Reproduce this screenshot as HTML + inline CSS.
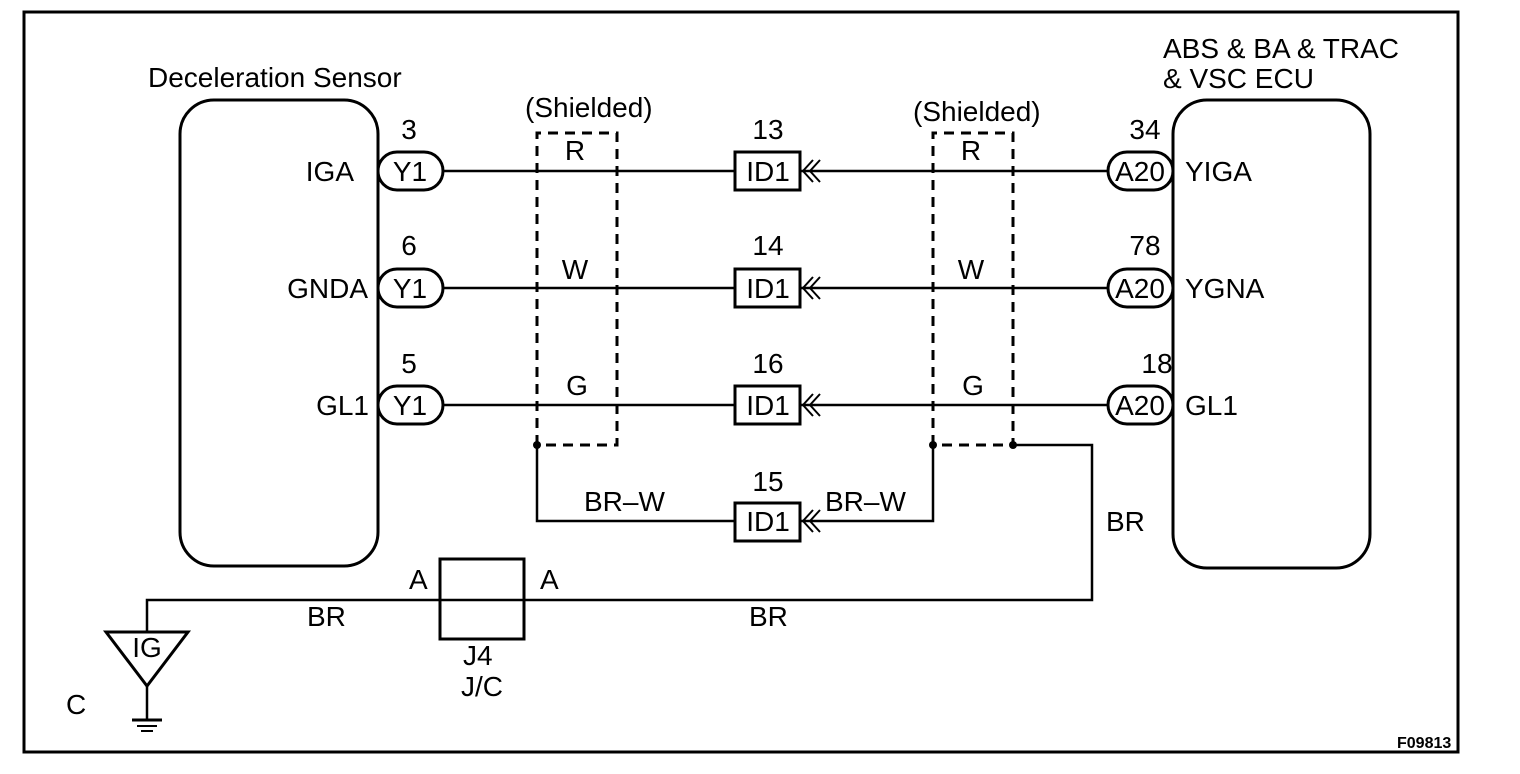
<!DOCTYPE html>
<html><head><meta charset="utf-8"><style>
html,body{margin:0;padding:0;background:#fff}
svg{display:block}
text{font-family:"Liberation Sans",Arial,sans-serif;font-size:28px;fill:#000}
</style></head><body>
<svg width="1520" height="774" viewBox="0 0 1520 774" xmlns="http://www.w3.org/2000/svg">
<g fill="none" stroke="#000" stroke-width="3">
<rect x="24" y="12" width="1434" height="740" stroke-width="3"/>
<rect x="180" y="100" width="198" height="466" rx="34"/>
<rect x="1173" y="100" width="197" height="468" rx="34"/>
</g>
<g fill="none" stroke="#000" stroke-width="2.5">
<line x1="443" y1="171" x2="735" y2="171"/>
<line x1="800" y1="171" x2="1108" y2="171"/>
<line x1="443" y1="288" x2="735" y2="288"/>
<line x1="800" y1="288" x2="1108" y2="288"/>
<line x1="443" y1="405" x2="735" y2="405"/>
<line x1="800" y1="405" x2="1108" y2="405"/>
<polyline points="537,445 537,521 735,521"/>
<polyline points="800,521 933,521 933,445"/>
<polyline points="1013,445 1092,445 1092,600 147,600 147,633"/>
<g stroke-dasharray="10,7" stroke-width="3">
<polyline points="537,445 537,133 617,133 617,445 537,445"/>
<polyline points="933,445 933,133 1013,133 1013,445 933,445"/>
</g>
<g stroke-width="3">
<rect x="378" y="152" width="65" height="38" rx="19"/>
<rect x="378" y="269" width="65" height="38" rx="19"/>
<rect x="378" y="386" width="65" height="38" rx="19"/>
<rect x="1108" y="152" width="65" height="38" rx="19"/>
<rect x="1108" y="269" width="65" height="38" rx="19"/>
<rect x="1108" y="386" width="65" height="38" rx="19"/>
<rect x="735" y="152" width="65" height="38"/>
<rect x="735" y="269" width="65" height="38"/>
<rect x="735" y="386" width="65" height="38"/>
<rect x="735" y="503" width="65" height="38"/>
</g>
<g stroke-width="2">
<path d="M813,160 L803,171 L813,182 M820,160 L810,171 L820,182"/>
<path d="M813,277 L803,288 L813,299 M820,277 L810,288 L820,299"/>
<path d="M813,394 L803,405 L813,416 M820,394 L810,405 L820,416"/>
<path d="M813,510 L803,521 L813,532 M820,510 L810,521 L820,532"/>
</g>
<rect x="440" y="559" width="84" height="80" stroke-width="3"/>
<polygon points="106,632 188,632 147,686" stroke-width="3"/>
<line x1="147" y1="686" x2="147" y2="720"/>
<line x1="132" y1="720" x2="162" y2="720" stroke-width="3"/>
<line x1="137" y1="726" x2="157" y2="726" stroke-width="2"/>
<line x1="141" y1="731" x2="153" y2="731" stroke-width="2"/>
</g>
<g fill="#000">
<circle cx="537" cy="445" r="4"/><circle cx="933" cy="445" r="4"/><circle cx="1013" cy="445" r="4"/>
</g>
<text x="148" y="87">Deceleration Sensor</text>
<text x="1163" y="58">ABS &amp; BA &amp; TRAC</text>
<text x="1163" y="88">&amp; VSC ECU</text>
<text x="525" y="117">(Shielded)</text>
<text x="913" y="121">(Shielded)</text>
<g text-anchor="middle">
<text x="409" y="139">3</text><text x="409" y="255">6</text><text x="409" y="373">5</text>
<text x="410" y="181">Y1</text><text x="410" y="298">Y1</text><text x="410" y="415">Y1</text>
<text x="1140" y="181">A20</text><text x="1140" y="298">A20</text><text x="1140" y="415">A20</text>
<text x="1145" y="139">34</text><text x="1145" y="255">78</text><text x="1157" y="373">18</text>
<text x="768" y="139">13</text><text x="768" y="255">14</text><text x="768" y="373">16</text><text x="768" y="491">15</text>
<text x="768" y="181">ID1</text><text x="768" y="298">ID1</text><text x="768" y="415">ID1</text><text x="768" y="531">ID1</text>
<text x="575" y="160">R</text><text x="575" y="279">W</text><text x="577" y="395">G</text>
<text x="971" y="160">R</text><text x="971" y="279">W</text><text x="973" y="395">G</text>
<text x="147" y="657">IG</text>
</g>
<g text-anchor="end">
<text x="354" y="181">IGA</text><text x="368" y="298">GNDA</text><text x="369" y="415">GL1</text>
</g>
<text x="1185" y="181">YIGA</text><text x="1185" y="298">YGNA</text><text x="1185" y="415">GL1</text>
<text x="584" y="511">BR–W</text><text x="825" y="511">BR–W</text>
<text x="1106" y="531">BR</text>
<text x="307" y="626">BR</text><text x="749" y="626">BR</text>
<text x="409" y="589">A</text><text x="540" y="589">A</text>
<text x="463" y="665">J4</text><text x="461" y="696">J/C</text>
<text x="66" y="714">C</text>
<text x="1397" y="748" style="font-size:16px;font-weight:bold">F09813</text>
</svg>
</body></html>
